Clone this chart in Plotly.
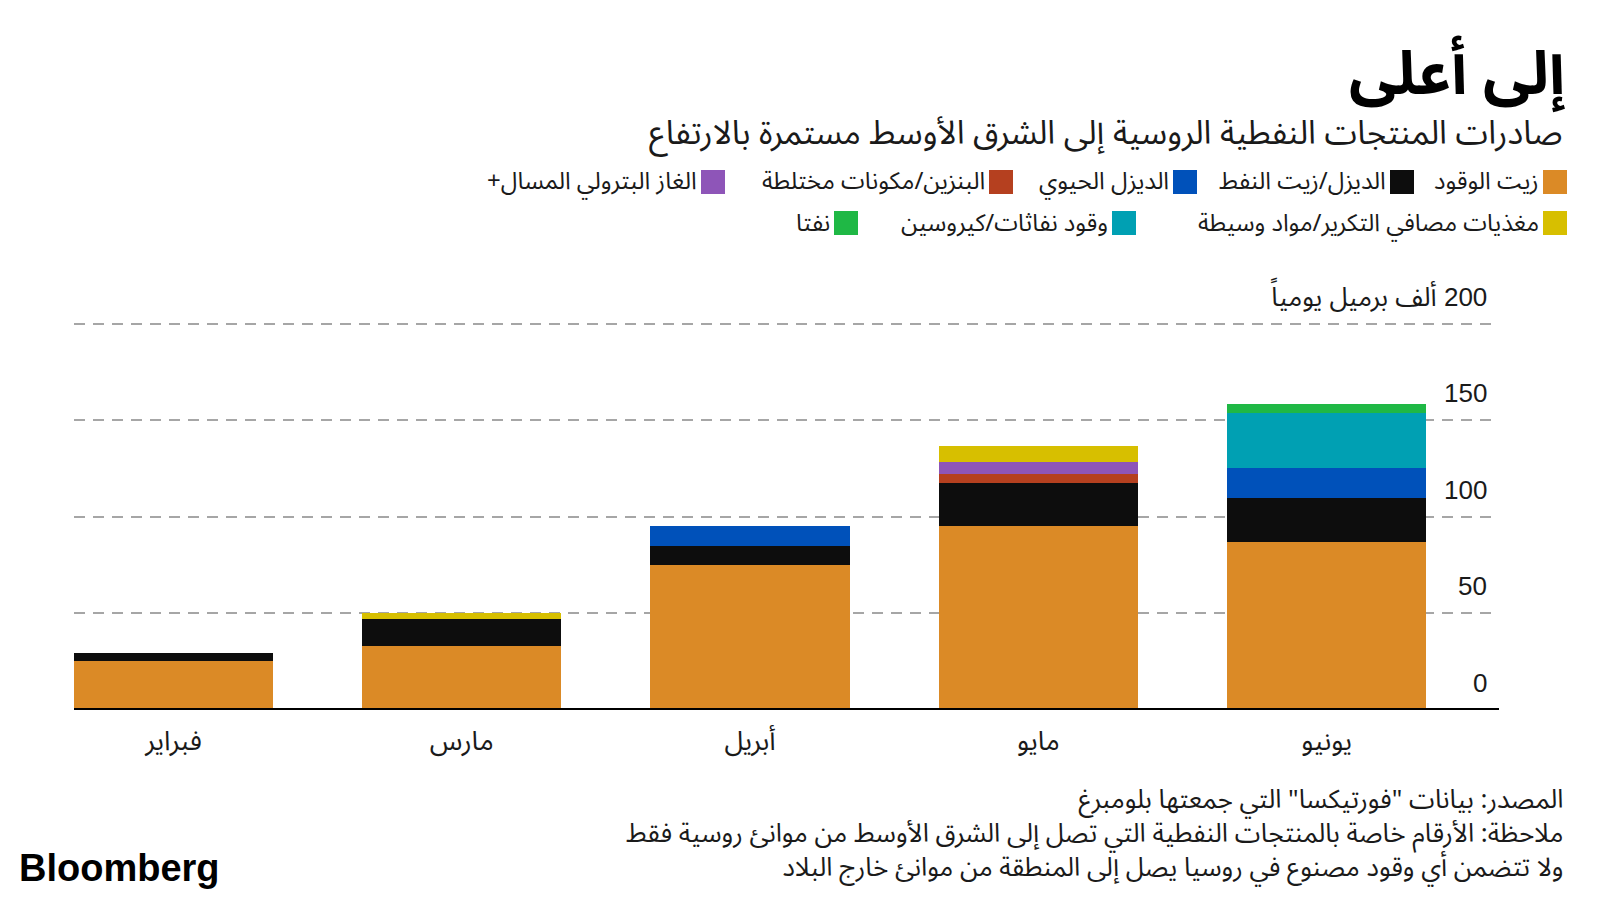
import plotly.graph_objects as go

# ---------------- data ----------------
months = ["فبراير", "مارس", "أبريل", "مايو", "يونيو"]

series_names = [
    "زيت الوقود",
    "الديزل/زيت النفط",
    "الديزل الحيوي",
    "البنزين/مكونات مختلطة",
    "الغاز البترولي المسال+",
    "مغذيات مصافي التكرير/مواد وسيطة",
    "وقود نفاثات/كيروسين",
    "نفتا",
]
fuel_oil = [25.5, 33.3, 75.0, 95.5, 87.2]
diesel_gasoil = [3.9, 13.9, 10.0, 22.0, 22.8]
biodiesel = [None, None, 10.5, None, 15.2]
gasoline_blending = [None, None, None, 4.8, None]
lpg = [None, None, None, 6.0, None]
refinery_feedstocks = [None, 3.2, None, 8.6, None]
jet_kerosene = [None, None, None, None, 28.5]
naphtha = [None, None, None, None, 4.8]
series_values = [fuel_oil, diesel_gasoil, biodiesel, gasoline_blending, lpg,
                 refinery_feedstocks, jet_kerosene, naphtha]

y_tick_vals = [0, 50, 100, 150, 200]
y_tick_text = ["0", "50", "100", "150", "200 ألف برميل يومياً"]

title_text = "إلى أعلى"
subtitle_text = "صادرات المنتجات النفطية الروسية إلى الشرق الأوسط مستمرة بالارتفاع"
footer_lines = [
    "المصدر: بيانات \"فورتيكسا\" التي جمعتها بلومبرغ",
    "ملاحظة: الأرقام خاصة بالمنتجات النفطية التي تصل إلى الشرق الأوسط من موانئ روسية فقط",
    "ولا تتضمن أي وقود مصنوع في روسيا يصل إلى المنطقة من موانئ خارج البلاد",
]

# ---------------- style ----------------
colors = ["#DB8A26", "#0D0D0D", "#0051BA", "#B5401F", "#8E55B8",
          "#D7BF00", "#00A0B3", "#1FB845"]
AR_FONT = "Noto Sans Arabic, Noto Kufi Arabic, DejaVu Sans, sans-serif"
NUM_FONT = "Liberation Sans, Noto Sans Arabic, DejaVu Sans, sans-serif"
TXT = "#1a1a1a"

OFF = 8                      # page body margin
W, H = 1592, 892
ML, MR, MT, MB = 66, 101, 314, 190
PW, PH = W - ML - MR, H - MT - MB


def px_x(X):                 # screen px -> paper x
    return (X - OFF - ML) / PW


def px_y(Y):                 # screen px -> paper y
    return (H - MB - (Y - OFF)) / PH


def rtl(s):
    return "\u200F" + s + "\u200F"


fig = go.Figure()
for name, vals, col in zip(series_names, series_values, colors):
    fig.add_trace(go.Bar(
        x=months, y=vals, name=name,
        marker=dict(color=col, line=dict(width=0)),
        showlegend=False,
    ))

annotations = []
shapes = []

# y tick labels above gridlines
for v, t in zip(y_tick_vals, y_tick_text):
    annotations.append(dict(
        x=1, xref="paper", y=v, yref="y", xanchor="right", yanchor="bottom",
        xshift=-10, yshift=10, showarrow=False, text=rtl(t),
        font=dict(family=NUM_FONT, size=26, color=TXT),
    ))

# title / subtitle
annotations.append(dict(
    x=px_x(1567), y=px_y(75), xref="paper", yref="paper",
    xanchor="right", yanchor="middle", showarrow=False,
    text="<b>" + rtl(title_text) + "</b>",
    font=dict(family=AR_FONT, size=60, color="#000000"),
))
annotations.append(dict(
    x=px_x(1565), y=px_y(134), xref="paper", yref="paper",
    xanchor="right", yanchor="middle", showarrow=False,
    text=rtl(subtitle_text),
    font=dict(family=AR_FONT, size=33, color=TXT),
))

# manual RTL legend
legend_slots = [  # (row centre y px, square right edge px) in screen pixels
    (182, 1567), (182, 1414), (182, 1197), (182, 1013), (182, 725),
    (223, 1567), (223, 1136), (223, 858),
]
SQ = 24
for name, col, (cy, sr) in zip(series_names, colors, legend_slots):
    shapes.append(dict(
        type="rect", xref="paper", yref="paper",
        x0=px_x(sr - SQ), x1=px_x(sr), y0=px_y(cy + SQ / 2), y1=px_y(cy - SQ / 2),
        fillcolor=col, line=dict(width=0),
    ))
    annotations.append(dict(
        x=px_x(sr - SQ - 2), y=px_y(cy), xref="paper", yref="paper",
        xanchor="right", yanchor="middle", showarrow=False,
        text=rtl(name), font=dict(family=AR_FONT, size=24, color=TXT),
    ))

# footer (one block, right aligned)
annotations.append(dict(
    x=px_x(1565), y=px_y(833), xref="paper", yref="paper",
    xanchor="right", yanchor="middle", align="right", showarrow=False,
    text="<br>".join(rtl(l) for l in footer_lines),
    font=dict(family=AR_FONT, size=26, color=TXT),
))

annotations.append(dict(
    x=px_x(17), y=px_y(868), xref="paper", yref="paper",
    xanchor="left", yanchor="middle", showarrow=False,
    text="<b>Bloomberg</b>",
    font=dict(family="Liberation Sans, Arial, sans-serif", size=38, color="#000000"),
))

# baseline
shapes.append(dict(
    type="line", xref="paper", yref="y", x0=0, x1=1, y0=0, y1=0,
    line=dict(color="#000000", width=4), layer="above",
))

fig.update_layout(
    width=W, height=H,
    margin=dict(l=ML, r=MR, t=MT, b=MB, autoexpand=False),
    paper_bgcolor="#ffffff", plot_bgcolor="#ffffff",
    barmode="stack", bargap=0.308,
    showlegend=False,
    annotations=annotations, shapes=shapes,
    xaxis=dict(
        type="category", range=[-0.345, 4.598],
        showgrid=False, zeroline=False, showline=False, ticks="",
        ticklabelstandoff=12,
        tickfont=dict(family=AR_FONT, size=27, color=TXT),
        fixedrange=True,
    ),
    yaxis=dict(
        range=[0, 201], tickvals=y_tick_vals, showticklabels=False,
        showgrid=True, gridcolor="#a6a6a6", gridwidth=1.5, griddash="11px,8px",
        zeroline=False, showline=False, ticks="", fixedrange=True,
    ),
)

fig.write_html("out.html")
